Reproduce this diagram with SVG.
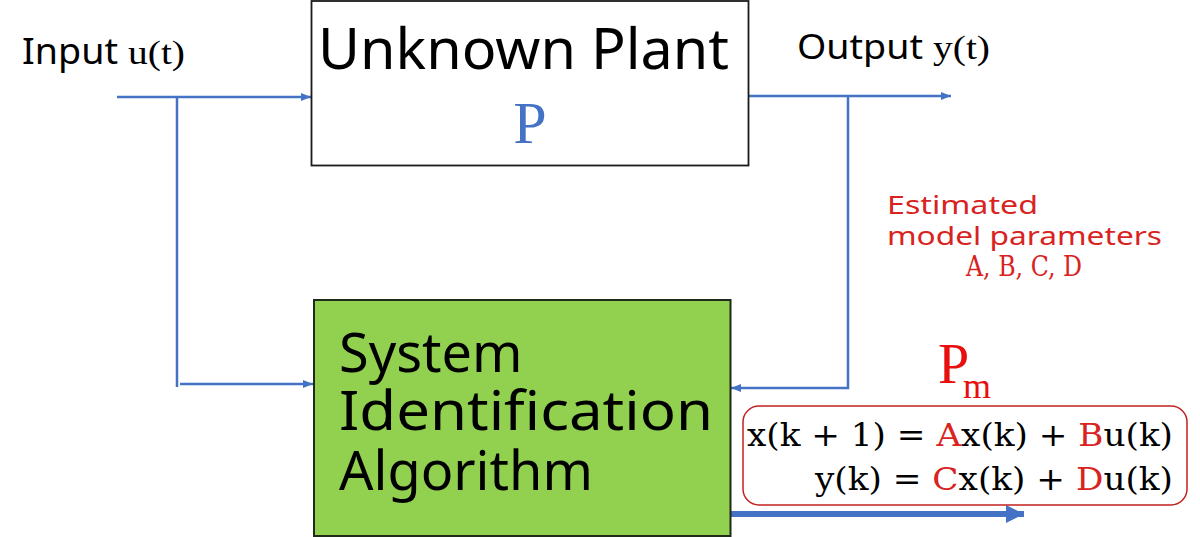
<svg xmlns="http://www.w3.org/2000/svg" width="1200" height="537" viewBox="0 0 1200 537">
<style>
.sans{font-family:"Noto Sans","Open Sans","DejaVu Sans",sans-serif;}
.serif{font-family:"Liberation Serif","DejaVu Serif",serif;}
.math{font-family:"DejaVu Serif","Liberation Serif",serif;}
.ln{fill:none;stroke:#4472C4;stroke-width:2.5;}
.red{fill:#d8231f;}
</style>
<defs>
<marker id="ah" markerUnits="userSpaceOnUse" markerWidth="10" markerHeight="10" refX="10" refY="5" orient="auto">
<path d="M0,1 L10,5 L0,9 Z" fill="#4472C4"/>
</marker>
<marker id="ahb" markerUnits="userSpaceOnUse" markerWidth="18" markerHeight="18" refX="18" refY="9" orient="auto">
<path d="M0,0 L18,9 L0,18 Z" fill="#4472C4"/>
</marker>
</defs>
<rect width="1200" height="537" fill="#ffffff"/>

<g id="connectors">
<path class="ln" d="M117,97 H311" marker-end="url(#ah)"/>
<path class="ln" d="M177,97 V387"/>
<path class="ln" d="M180,384 H313" marker-end="url(#ah)"/>
<path class="ln" d="M749,96 H951" marker-end="url(#ah)"/>
<path class="ln" d="M848,96 V388 H731" marker-end="url(#ah)"/>
<path fill="none" stroke="#4472C4" stroke-width="6" d="M731,514 H1024" marker-end="url(#ahb)"/>
</g>

<g id="input-label">
<text x="22" y="64" class="sans" font-size="36" textLength="96" lengthAdjust="spacingAndGlyphs">Input</text>
<text x="128" y="64" class="serif" font-size="33" textLength="57" lengthAdjust="spacingAndGlyphs">u(t)</text>
</g>

<g id="output-label">
<text x="797" y="59" class="sans" font-size="35" textLength="126" lengthAdjust="spacingAndGlyphs">Output</text>
<text x="933" y="59" class="serif" font-size="33" textLength="57" lengthAdjust="spacingAndGlyphs">y(t)</text>
</g>

<g id="plant">
<rect x="311.5" y="1" width="437" height="164.5" fill="#ffffff" stroke="#1a1a1a" stroke-width="1.8"/>
<text x="318" y="69" class="sans" font-size="57" textLength="411" lengthAdjust="spacingAndGlyphs">Unknown Plant</text>
<text x="530" y="143" class="serif" font-size="60" fill="#4472C4" text-anchor="middle">P</text>
</g>

<g id="algorithm">
<rect x="314" y="300" width="416.5" height="236" fill="#92D050" stroke="#1f2a1a" stroke-width="2"/>
<text class="sans" font-size="54" fill="#000">
<tspan x="339" y="372">System</tspan>
<tspan x="339" y="430" textLength="374" lengthAdjust="spacingAndGlyphs">Identification</tspan>
<tspan x="339" y="490">Algorithm</tspan>
</text>
</g>

<g id="params-label">
<text class="sans red" font-size="26">
<tspan x="887" y="214" textLength="151" lengthAdjust="spacingAndGlyphs">Estimated</tspan>
<tspan x="887" y="245" textLength="275" lengthAdjust="spacingAndGlyphs">model parameters</tspan>
</text>
<text x="966" y="276" class="math red" font-size="27" textLength="116" lengthAdjust="spacingAndGlyphs">A, B, C, D</text>
</g>

<g id="model">
<text x="938" y="383" class="serif" font-size="56" fill="#e8100f">P<tspan x="963" y="398" font-size="36">m</tspan></text>
<rect x="743" y="406" width="444" height="99" rx="16" fill="#ffffff" stroke="#c42020" stroke-width="1.5"/>
<text x="747" y="446" class="math" font-size="31" textLength="426" lengthAdjust="spacingAndGlyphs">x(k + 1) = <tspan class="red">A</tspan>x(k) + <tspan class="red">B</tspan>u(k)</text>
<text x="815" y="490" class="math" font-size="31" textLength="358" lengthAdjust="spacingAndGlyphs">y(k) = <tspan class="red">C</tspan>x(k) + <tspan class="red">D</tspan>u(k)</text>
</g>
</svg>
